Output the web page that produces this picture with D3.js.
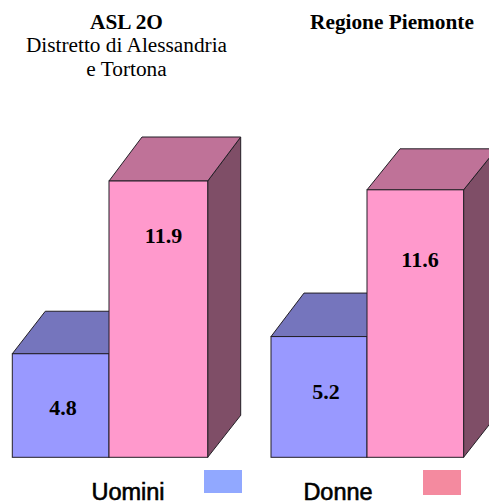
<!DOCTYPE html>
<html><head><meta charset="utf-8">
<script src="https://cdn.jsdelivr.net/npm/d3@7"></script>
<style>html,body{margin:0;padding:0;background:#fff;overflow:hidden}svg{display:block}</style>
</head><body><div id="chart"></div>
<script>
const panels = ["ASL 2O", "Regione Piemonte"];
const seriesNames = ["Uomini", "Donne"];
const labelsUomini = ["4.8", "5.2"];
const labelsDonne = ["11.9", "11.6"];
// bar heights as drawn in the picture, in value units
const heightsUomini = [4.46, 5.2];
const heightsDonne = [11.9, 11.52];
const subtitle = ["Distretto di Alessandria", "e Tortona"];

const W = 489, H = 502;
const svg = d3.select("#chart").append("svg").attr("width", W).attr("height", H);
const y = d3.scaleLinear().domain([0, 11.9]).range([457.3, 181]);
const layout = [
  {left: [12.3, 109], right: 207.7, top: [42.5, 44], labelX: [63, 163.5], labelY: [415, 243]},
  {left: [271, 367], right: 463.6, top: [43.5, 41], labelX: [326, 420], labelY: [399, 267]}
];
const dx = 33, sideDy = 42;
const colors = {
  Uomini: {front: "#9999ff", top: "#7575bd", side: "#5c5c99"},
  Donne: {front: "#ff99cc", top: "#bf7298", side: "#7f4e67"}
};
const stroke = "#231f26";
const poly = pts => pts.map(p => p.join(",")).join(" ");

panels.forEach((p, i) => {
  const L = layout[i];
  const bars = [
    {k: 0, s: "Uomini", v: heightsUomini[i], label: labelsUomini[i]},
    {k: 1, s: "Donne", v: heightsDonne[i], label: labelsDonne[i]}
  ];
  bars.forEach(d => {
    d.x0 = L.left[d.k];
    d.x1 = d.k === 0 ? L.left[1] : L.right;
    d.dy = L.top[d.k];
    d.lx = L.labelX[d.k];
    d.ly = L.labelY[d.k];
  });
  const g = svg.append("g");
  const sel = g.selectAll("g.bar").data(bars).join("g").attr("class", "bar");
  sel.append("polygon").attr("points", d => {
    const t = y(d.v), b = y(0);
    return poly([[d.x1, t], [d.x1 + dx, t - d.dy], [d.x1 + dx, b - sideDy], [d.x1, b]]);
  }).attr("fill", d => colors[d.s].side).attr("stroke", stroke).attr("stroke-width", 1);
  sel.append("polygon").attr("points", d => {
    const t = y(d.v);
    return poly([[d.x0, t], [d.x0 + dx, t - d.dy], [d.x1 + dx, t - d.dy], [d.x1, t]]);
  }).attr("fill", d => colors[d.s].top).attr("stroke", stroke).attr("stroke-width", 1);
  sel.append("rect")
    .attr("x", d => d.x0).attr("width", d => d.x1 - d.x0)
    .attr("y", d => y(d.v)).attr("height", d => y(0) - y(d.v))
    .attr("fill", d => colors[d.s].front).attr("stroke", stroke).attr("stroke-width", 1);
  sel.append("text")
    .attr("x", d => d.lx).attr("y", d => d.ly)
    .attr("text-anchor", "middle")
    .attr("font-family", "'Liberation Serif', serif").attr("font-weight", "bold")
    .attr("font-size", 22).attr("fill", "#000").text(d => d.label);
});

const serif = "'Liberation Serif', serif";
svg.append("text").attr("x", 126.5).attr("y", 29).attr("text-anchor", "middle")
  .attr("font-family", serif).attr("font-weight", "bold").attr("font-size", 21.3).text(panels[0]);
svg.selectAll("text.sub").data(subtitle).join("text").attr("class", "sub")
  .attr("x", 126.5).attr("y", (d, i) => 52 + i * 24)
  .attr("text-anchor", "middle").attr("font-family", serif).attr("font-size", 21.3).text(d => d);
svg.append("text").attr("x", 392).attr("y", 29).attr("text-anchor", "middle")
  .attr("font-family", serif).attr("font-weight", "bold").attr("font-size", 21.3).text(panels[1]);

const legendX = d3.scalePoint().domain(seriesNames).range([128, 338]);
const swatchX = d3.scaleOrdinal().domain(seriesNames).range([204, 423]);
const swatchColor = d3.scaleOrdinal().domain(seriesNames).range(["#91a8ff", "#f48a9f"]);
const swatchH = d3.scaleOrdinal().domain(seriesNames).range([23, 25]);
const lg = svg.selectAll("g.leg").data(seriesNames).join("g").attr("class", "leg");
lg.append("text").attr("x", d => legendX(d)).attr("y", 500).attr("text-anchor", "middle")
  .attr("font-family", "'Liberation Sans', sans-serif").attr("font-size", 23.5)
  .attr("stroke", "#000").attr("stroke-width", 0.6).attr("fill", "#000").text(d => d);
lg.append("rect").attr("x", d => swatchX(d)).attr("y", 470).attr("width", 38)
  .attr("height", d => swatchH(d)).attr("fill", d => swatchColor(d));
</script></body></html>
